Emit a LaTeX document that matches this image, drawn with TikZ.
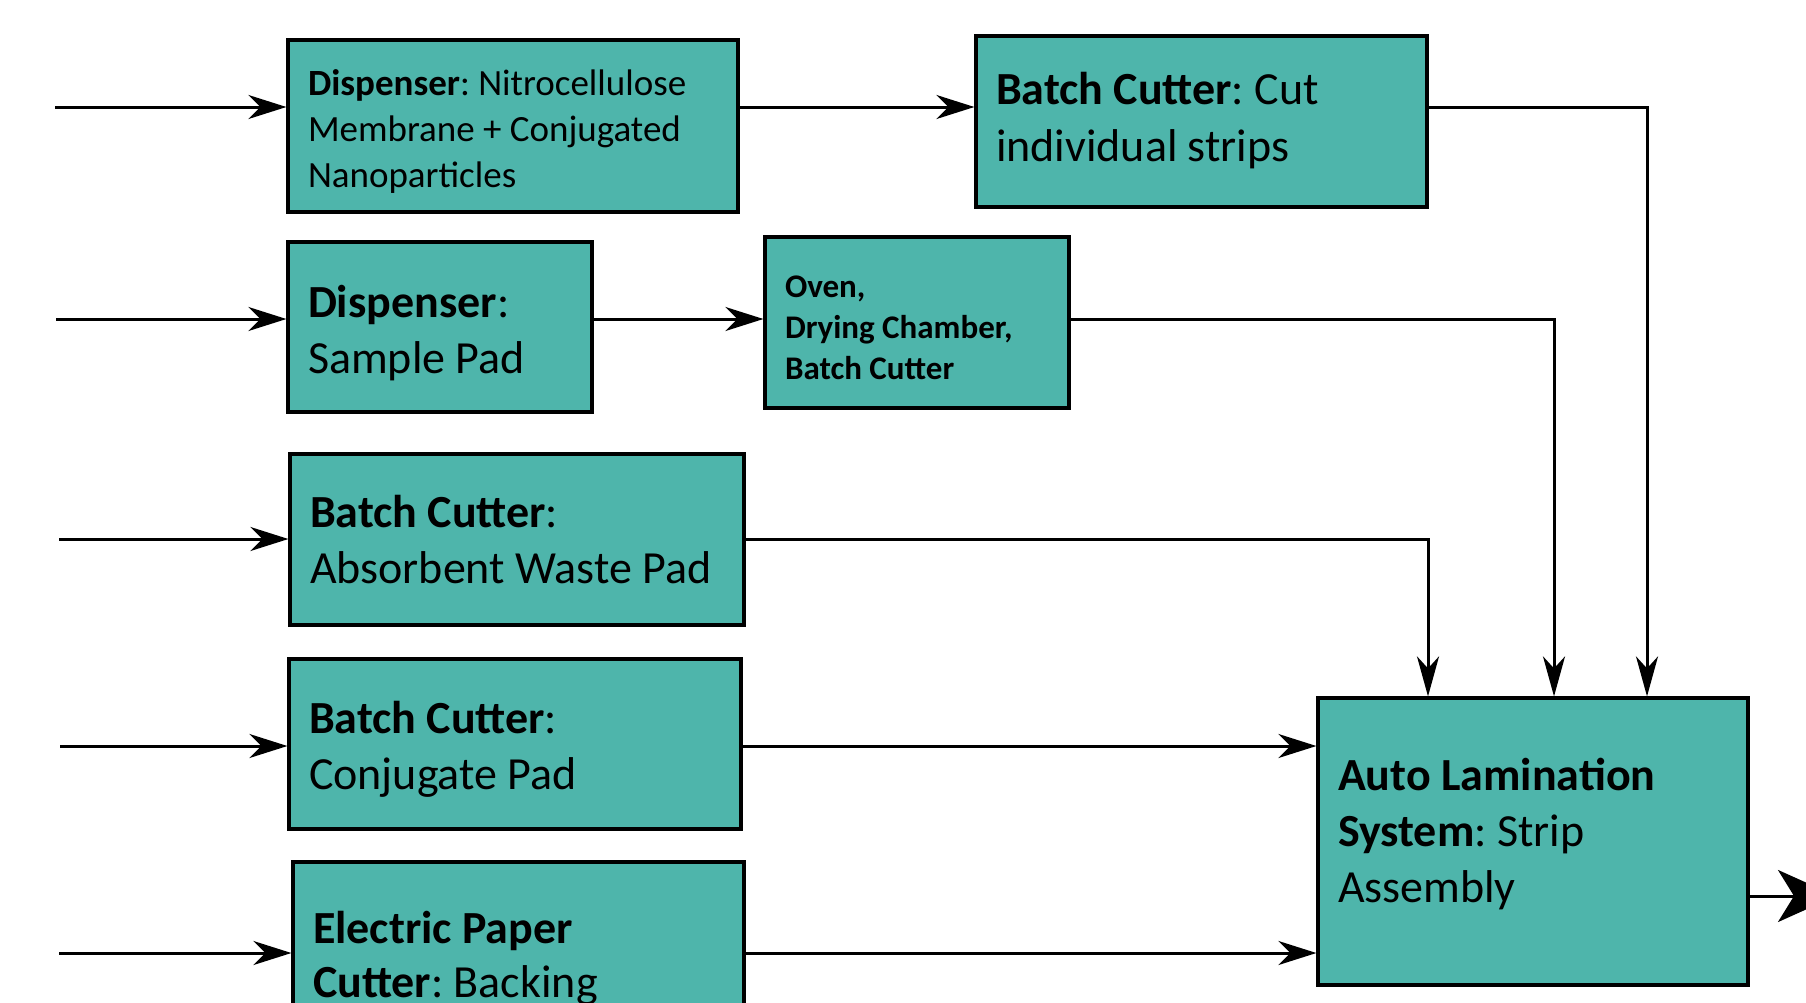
\documentclass[tikz,border=0pt]{standalone}
\usepackage{fontspec}
\setmainfont{Carlito}
\usetikzlibrary{arrows.meta}
\definecolor{tealfill}{RGB}{78,181,171}
\frenchspacing
\tikzset{
 box/.style={draw=black, line width=3.2pt, fill=tealfill, rectangle, inner xsep=20pt, inner ysep=0pt},
 arr/.style={-{Stealth[length=38pt,width=24pt,inset=12pt]}, line width=3pt},
 downarr/.style={-{Stealth[length=40pt,width=22pt,inset=12pt]}, line width=3pt},
 outarr/.style={-{Stealth[length=58pt,width=52pt,inset=16pt]}, line width=3pt},
}
\newcommand{\fz}[2]{\fontsize{#1pt}{#2pt}\selectfont}
% \bx{width}{space above}{space below}{content}
\newcommand{\bx}[4]{\parbox{#1}{\raggedright\vspace*{#2}#4\par\vspace*{#3}}}
\begin{document}
\begin{tikzpicture}[x=1pt,y=-1pt]
\useasboundingbox (0,0) rectangle (1806,1002);
\clip (0,0) rectangle (1806,1002);
% boxes
\node[box, minimum width=450pt, minimum height=172pt, font=\fz{37}{46}] (b1) at (513,126)
  {\bx{410pt}{11.5pt}{0pt}{\textbf{Dispenser}: Nitrocellulose\\Membrane + Conjugated\\Nanoparticles}};
\node[box, minimum width=451pt, minimum height=171pt, font=\fz{46}{57}] (b2) at (1201.5,121.5)
  {\bx{411pt}{0pt}{2pt}{\textbf{Batch Cutter}: Cut\\individual strips}};
\node[box, minimum width=304pt, minimum height=170pt, font=\fz{46}{56}] (b3) at (440,327)
  {\bx{264pt}{11.5pt}{0pt}{\textbf{Dispenser}:\\Sample Pad}};
\node[box, minimum width=304pt, minimum height=171pt, font=\fz{33}{41}\bfseries] (b4) at (917,322.5)
  {\bx{264pt}{11.5pt}{0pt}{Oven,\\Drying Chamber,\\Batch Cutter}};
\node[box, minimum width=454pt, minimum height=171pt, font=\fz{46}{56}] (b5) at (517,539.5)
  {\bx{414pt}{1pt}{0pt}{\textbf{Batch Cutter}:\\Absorbent Waste Pad}};
\node[box, minimum width=452pt, minimum height=170pt, font=\fz{46}{56}] (b6) at (515,744)
  {\bx{412pt}{11.5pt}{0pt}{\textbf{Batch Cutter}:\\Conjugate Pad}};
\node[box, minimum width=451pt, minimum height=186pt, font=\fz{46}{54}] (b7) at (518.5,955)
  {\bx{411pt}{7pt}{0pt}{\textbf{Electric Paper}\\\textbf{Cutter}: Backing}};
\node[box, minimum width=430pt, minimum height=287pt, font=\fz{46}{56}] (b8) at (1533,841.5)
  {\bx{390pt}{0pt}{14pt}{\textbf{Auto Lamination}\\\textbf{System}: Strip\\Assembly}};
% level coordinates
\coordinate (i1) at (55,107);
\coordinate (i2) at (56,319);
\coordinate (i3) at (59,539);
\coordinate (i4) at (60,746);
\coordinate (i5) at (59,953);
\coordinate (c1) at (1428,0);
\coordinate (c2) at (1554,0);
\coordinate (c3) at (1647,0);
\coordinate (o1) at (1836,896);
% input arrows
\draw[arr] (i1) -- (b1.west |- i1);
\draw[arr] (i2) -- (b3.west |- i2);
\draw[arr] (i3) -- (b5.west |- i3);
\draw[arr] (i4) -- (b6.west |- i4);
\draw[arr] (i5) -- (b7.west |- i5);
% between boxes
\draw[arr] (b1.east |- i1) -- (b2.west |- i1);
\draw[arr] (b3.east |- i2) -- (b4.west |- i2);
\draw[downarr] (b2.east |- i1) -| (b8.north -| c3);
\draw[downarr] (b4.east |- i2) -| (b8.north -| c2);
\draw[downarr] (b5.east |- i3) -| (b8.north -| c1);
\draw[arr] (b6.east |- i4) -- (b8.west |- i4);
\draw[arr] (b7.east |- i5) -- (b8.west |- i5);
\draw[outarr] (b8.east |- o1) -- (o1);
\end{tikzpicture}
\end{document}
